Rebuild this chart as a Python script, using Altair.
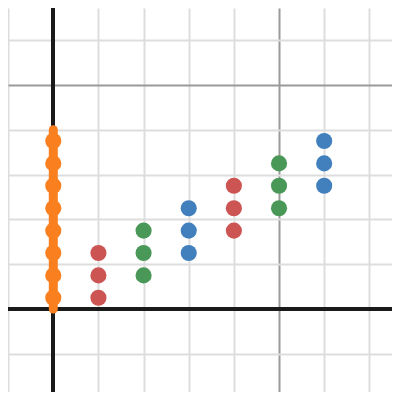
import altair as alt
import pandas as pd

# data
orange_x = [0, 0, 0, 0, 0, 0, 0, 0]
orange_y = [0.25, 0.75, 1.25, 1.75, 2.25, 2.75, 3.25, 3.75]
red_x = [1, 1, 1, 4, 4, 4]
red_y = [0.25, 0.75, 1.25, 1.75, 2.25, 2.75]
green_x = [2, 2, 2, 5, 5, 5]
green_y = [0.75, 1.25, 1.75, 2.25, 2.75, 3.25]
blue_x = [3, 3, 3, 6, 6, 6]
blue_y = [1.25, 1.75, 2.25, 2.75, 3.25, 3.75]
segment_x = [0]
segment_y = [0]
segment_y2 = [4]
x_ticks = [-1, 0, 1, 2, 3, 4, 5, 6, 7]
y_ticks = [-2, -1, 0, 1, 2, 3, 4, 5, 6]

series = ["orange", "red", "green", "blue"]
colors = ["#fa7f1e", "#cc5452", "#4a9858", "#4280bd"]

rows = []
for name, xs, ys in [("orange", orange_x, orange_y), ("red", red_x, red_y),
                     ("green", green_x, green_y), ("blue", blue_x, blue_y)]:
    for a, b in zip(xs, ys):
        rows.append({"x": a, "y": b, "s": name})
pts = pd.DataFrame(rows)
seg = pd.DataFrame({"x": segment_x, "y": segment_y, "y2": segment_y2})

xs = alt.Scale(domain=[-1.003, 7.502], nice=False, zero=False)
ys = alt.Scale(domain=[-1.853, 6.719], nice=False, zero=False)

grid_color = {"condition": {"test": "datum.value % 5 === 0 && datum.value !== 0", "value": "#9a9a9a"}, "value": "#dddddd"}

x_axis = alt.Axis(values=x_ticks, labels=False, ticks=False, domain=False, title=None,
                  grid=True, gridWidth=2, gridColor=grid_color)
y_axis = alt.Axis(values=y_ticks, labels=False, ticks=False, domain=False, title=None,
                  grid=True, gridWidth=2, gridColor=grid_color)

base = alt.Chart(pts).mark_point(opacity=0).encode(
    x=alt.X("x:Q", scale=xs, axis=x_axis),
    y=alt.Y("y:Q", scale=ys, axis=y_axis),
)

axis_x = alt.Chart(pts).mark_rule(color="#1a1a1a", strokeWidth=3).encode(y=alt.datum(0, scale=ys))
axis_y = alt.Chart(pts).mark_rule(color="#1a1a1a", strokeWidth=3).encode(x=alt.datum(0, scale=xs))

segment = alt.Chart(seg).mark_rule(color="#fa7f1e", strokeWidth=9, strokeCap="round").encode(
    x=alt.X("x:Q", scale=xs), y=alt.Y("y:Q", scale=ys), y2="y2:Q")

dots = alt.Chart(pts).mark_circle(size=260, opacity=1).encode(
    x=alt.X("x:Q", scale=xs),
    y=alt.Y("y:Q", scale=ys),
    color=alt.Color("s:N", scale=alt.Scale(domain=series, range=colors), legend=None),
)

chart = alt.layer(base, axis_x, axis_y, segment, dots).properties(
    width=384, height=384, padding=0, autosize=alt.AutoSizeParams(type="none")
).configure_view(stroke=None)

chart.save("out.html", embed_options={"renderer": "svg", "actions": False})
